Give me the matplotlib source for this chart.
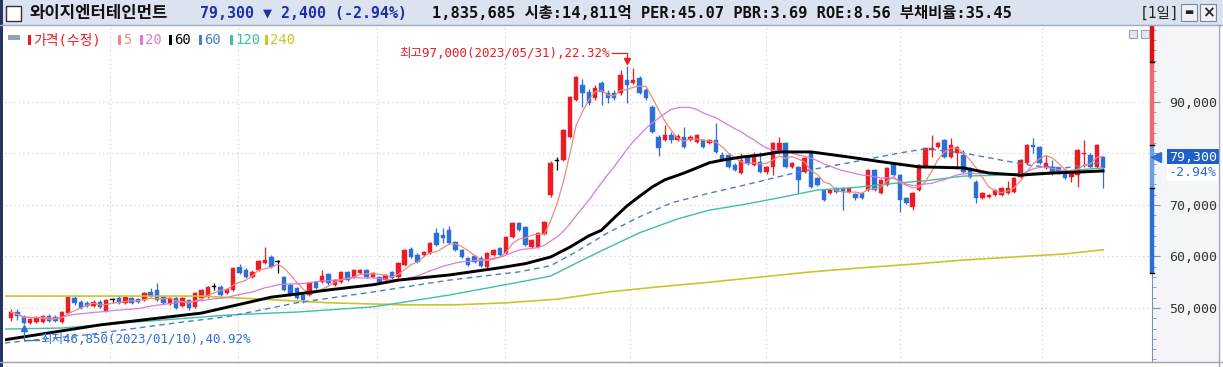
import numpy as np
import pandas as pd
import matplotlib
matplotlib.use("Agg")
import matplotlib.pyplot as plt
from matplotlib.patches import Rectangle
from matplotlib.ticker import FuncFormatter, MultipleLocator, FixedLocator

plt.rcParams['font.family'] = ['Noto Sans CJK KR', 'DejaVu Sans']
MONO = ['DejaVu Sans Mono', 'Noto Sans CJK KR']

# 일봉 OHLC (천원 단위), 2023/01/10 ~
opens = [48.1, 49.2, 48.2, 47.1, 47.3, 47.3, 48.4, 48.2, 47.3, 49.0,
         51.9, 51.2, 51.0, 50.4, 51.2, 49.4, 51.5, 51.9, 51.0, 51.9,
         51.7, 51.5, 53.1, 53.5, 52.1, 50.8, 51.9, 50.4, 51.5, 50.2,
         51.9, 52.1, 54.1, 54.1, 52.9, 53.5, 58.0, 57.4, 56.0, 57.4,
         58.7, 59.9, 58.9, 56.0, 54.5, 53.9, 52.5, 52.5, 55.0, 55.0,
         56.6, 54.5, 55.0, 57.0, 56.0, 56.8, 57.4, 56.0, 56.0, 55.4,
         57.0, 56.0, 58.3, 61.5, 60.3, 60.3, 60.7, 64.6, 64.2, 65.1,
         62.8, 61.3, 59.7, 60.1, 59.7, 58.0, 60.3, 61.6, 60.7, 63.8,
         66.5, 65.7, 61.8, 61.8, 64.4, 71.9, 78.5, 78.7, 83.2, 90.4,
         93.3, 91.9, 90.8, 93.7, 91.7, 91.7, 91.7, 94.3, 93.7, 94.7,
         92.3, 89.0, 83.2, 82.6, 83.6, 82.6, 83.2, 82.6, 82.2, 82.6,
         82.0, 82.6, 79.7, 79.7, 77.8, 76.2, 79.3, 77.8, 78.3, 76.4,
         77.4, 80.1, 82.0, 77.4, 77.4, 76.4, 80.1, 75.2, 72.9, 72.3,
         73.3, 73.3, 72.5, 72.1, 72.3, 72.9, 76.8, 72.3, 73.9, 78.2,
         75.8, 71.4, 69.6, 72.9, 77.4, 80.7, 81.3, 82.6, 79.3, 80.1,
         79.7, 77.2, 74.5, 71.4, 71.6, 71.9, 71.9, 72.3, 72.5, 75.4,
         78.2, 81.6, 81.3, 77.2, 77.4, 77.2, 76.8, 75.4, 75.8, 79.9,
         79.7, 77.4, 79.3]
highs = [49.8, 49.8, 48.6, 48.1, 48.4, 48.6, 48.8, 48.6, 49.4, 52.3,
         52.5, 51.5, 51.4, 51.5, 51.5, 51.7, 51.9, 52.3, 52.3, 52.1,
         51.9, 53.1, 53.9, 54.8, 52.3, 52.1, 52.1, 52.1, 51.7, 53.1,
         53.7, 54.3, 54.8, 54.5, 53.9, 58.0, 58.5, 57.8, 57.4, 59.3,
         61.8, 60.3, 59.3, 56.2, 54.8, 54.1, 52.9, 55.0, 55.2, 57.4,
         56.8, 55.6, 57.2, 57.2, 57.6, 57.6, 57.6, 57.0, 56.2, 56.6,
         57.2, 58.9, 61.5, 61.8, 60.7, 61.1, 62.8, 65.5, 65.5, 65.9,
         63.0, 61.5, 59.9, 60.3, 60.1, 60.9, 61.5, 61.8, 64.0, 66.7,
         66.7, 65.9, 63.4, 64.8, 66.9, 78.5, 79.3, 84.8, 91.2, 95.1,
         94.5, 92.5, 93.3, 94.1, 92.3, 92.3, 96.2, 97.0, 96.6, 95.0,
         92.7, 89.4, 83.6, 85.5, 84.2, 83.8, 85.1, 83.6, 83.8, 82.8,
         82.8, 86.0, 80.3, 80.0, 78.2, 80.1, 79.5, 80.3, 80.3, 77.6,
         82.2, 83.2, 82.2, 78.3, 77.6, 79.3, 80.3, 75.4, 73.1, 73.1,
         73.5, 73.5, 73.5, 72.3, 72.5, 77.0, 77.0, 75.1, 77.4, 78.3,
         76.0, 71.6, 72.5, 78.0, 81.3, 83.6, 82.2, 82.8, 83.0, 81.4,
         80.7, 77.4, 74.9, 72.5, 72.1, 73.1, 73.5, 74.7, 75.4, 78.9,
         81.8, 83.0, 81.4, 79.7, 78.7, 77.4, 77.0, 76.8, 80.9, 82.6,
         80.1, 81.8, 79.6]
lows = [47.5, 47.7, 46.85, 46.9, 47.1, 47.1, 47.3, 47.3, 47.1, 48.8,
        50.6, 49.8, 50.2, 50.2, 50.0, 49.2, 51.0, 50.8, 50.8, 50.8,
        51.0, 51.4, 52.1, 51.4, 50.8, 50.6, 49.8, 50.2, 49.6, 50.0,
        51.7, 51.9, 53.5, 52.3, 52.7, 53.3, 56.6, 55.8, 55.8, 57.2,
        58.5, 57.8, 56.8, 53.3, 52.3, 51.7, 51.0, 52.3, 53.7, 54.8,
        54.5, 54.3, 54.8, 55.2, 55.8, 56.6, 55.8, 55.8, 54.8, 55.2,
        55.6, 55.8, 58.1, 59.7, 58.7, 60.1, 60.5, 62.0, 62.6, 62.4,
        61.1, 59.7, 58.1, 58.7, 58.0, 57.8, 60.1, 60.1, 60.5, 63.6,
        64.9, 62.0, 61.6, 61.6, 64.2, 71.6, 76.8, 78.5, 83.0, 90.2,
        89.0, 89.4, 90.4, 89.4, 89.8, 90.4, 91.3, 89.8, 93.5, 91.5,
        90.4, 84.0, 79.5, 82.4, 82.0, 82.4, 81.1, 82.4, 82.0, 81.1,
        81.8, 80.1, 78.5, 77.2, 76.6, 76.0, 77.8, 77.6, 76.2, 76.0,
        75.8, 79.9, 77.2, 77.2, 72.3, 76.2, 73.3, 73.7, 70.8, 72.1,
        72.3, 69.0, 72.3, 71.0, 71.2, 72.7, 72.7, 72.1, 73.7, 75.6,
        68.6, 70.2, 69.0, 72.7, 77.2, 79.3, 81.1, 79.1, 79.1, 77.0,
        76.2, 75.2, 70.4, 71.2, 71.4, 71.7, 71.7, 72.1, 72.3, 75.2,
        78.0, 80.1, 78.0, 77.0, 75.8, 76.0, 75.0, 74.5, 73.5, 77.4,
        77.2, 77.2, 73.3]
closes = [49.2, 48.4, 47.1, 47.9, 48.1, 48.4, 47.5, 47.5, 49.2, 52.1,
          51.0, 50.0, 50.4, 51.2, 50.2, 51.5, 51.5, 51.0, 52.1, 51.0,
          51.2, 52.9, 52.3, 51.5, 51.0, 51.9, 50.0, 51.9, 50.0, 52.9,
          53.5, 54.1, 54.1, 52.5, 53.7, 57.8, 56.8, 56.0, 57.0, 59.1,
          59.3, 58.0, 58.9, 53.5, 52.5, 51.9, 51.5, 54.8, 53.9, 56.2,
          54.8, 55.4, 57.0, 55.4, 57.4, 57.4, 56.0, 56.8, 55.0, 56.4,
          55.8, 58.7, 61.3, 59.9, 58.9, 60.9, 62.6, 62.2, 63.6, 62.6,
          61.3, 59.9, 58.3, 58.9, 58.2, 60.7, 61.3, 60.3, 63.8, 66.5,
          65.1, 62.2, 63.2, 64.6, 66.7, 78.2, 78.5, 84.6, 91.0, 94.9,
          91.7, 89.8, 92.7, 91.9, 90.8, 90.8, 95.2, 93.3, 94.3, 91.7,
          90.8, 84.2, 81.1, 83.6, 82.6, 83.4, 81.3, 83.2, 83.6, 81.3,
          82.6, 80.3, 78.7, 77.4, 76.8, 78.7, 78.2, 79.7, 76.4, 77.4,
          82.0, 82.0, 77.4, 78.2, 74.9, 79.1, 73.5, 73.9, 71.0, 72.9,
          72.5, 72.5, 73.3, 71.4, 71.4, 76.8, 72.9, 74.9, 77.2, 75.8,
          71.0, 70.4, 72.3, 77.8, 81.1, 81.1, 82.0, 79.3, 81.6, 81.3,
          76.4, 75.4, 71.4, 72.3, 71.9, 72.9, 73.3, 73.3, 75.2, 78.7,
          81.6, 81.3, 78.2, 78.2, 76.4, 76.2, 75.2, 76.4, 80.7, 80.1,
          77.4, 81.7, 77.2]

# 장기 이동평균 (봉 번호, 천원)
ma60_idx = [-1, 0, 14, 30, 41, 45, 50, 57, 61, 69, 77, 81, 85, 88, 91, 93, 95, 97,
            99, 101, 103, 106, 108, 110, 112, 115, 118, 121, 126, 132, 137, 143,
            150, 154, 159, 164, 172]
ma60_val = [43.8, 44.0, 46.7, 49.0, 52.1, 52.7, 53.5, 54.5, 55.4, 56.4, 57.8, 58.6,
            59.9, 61.8, 64.0, 65.1, 67.5, 69.8, 71.7, 73.5, 74.9, 76.2, 77.2, 78.2,
            78.7, 79.3, 79.7, 80.3, 80.3, 79.3, 78.4, 77.4, 77.2, 76.2, 75.8, 76.2,
            76.6]
ma60b_idx = [-1, 12, 26, 34, 41, 45, 57, 69, 80, 85, 89, 94, 99, 104, 110, 115,
             120, 124, 132, 140, 144, 150, 156, 161, 166, 172]
ma60b_val = [43.2, 44.8, 47.1, 48.3, 50.0, 51.0, 53.1, 55.4, 57.0, 58.2, 60.9, 64.6,
             67.7, 70.4, 72.3, 73.7, 75.2, 76.4, 78.2, 80.1, 80.9, 80.1, 78.7, 77.6,
             77.2, 78.3]
ma120_idx = [-1, 8, 20, 34, 41, 45, 57, 69, 80, 85, 90, 94, 99, 105, 110, 115, 121,
             127, 132, 140, 144, 150, 156, 164, 172]
ma120_val = [45.9, 46.1, 47.3, 48.6, 49.0, 49.2, 50.2, 52.5, 55.0, 56.2, 59.3, 61.7,
             64.6, 67.3, 69.0, 70.0, 71.4, 72.9, 73.3, 74.3, 74.7, 75.6, 75.8, 76.4,
             77.2]
ma240_idx = [-1, 30, 41, 50, 62, 70, 78, 86, 94, 102, 110, 118, 126, 134, 142, 150,
             158, 166, 172]
ma240_val = [52.3, 52.3, 51.6, 51.0, 50.6, 50.6, 51.0, 51.7, 53.1, 54.1, 55.0, 56.0,
             57.0, 57.8, 58.5, 59.3, 59.9, 60.5, 61.3]

month_starts = [15.6, 35.7, 57.6, 77.8, 97.5, 118.9, 140, 162.4]
range_levels = [104.9, 97.8, 81.6, 73.3, 56.8]
last_price = 79.3
hi_idx, hi_val = 97, 97.0
lo_idx, lo_val = 2, 46.85

W, H = 1223, 367
def fx(px): return px / W
def fy(py): return 1 - py / H

RED = '#ec1c24'
BLUE = '#2c6fd6'

fig = plt.figure(figsize=(W / 100, H / 100), dpi=100)
fig.patch.set_facecolor('white')

# 오른쪽 가격축 배경
fig.add_artist(Rectangle((fx(1152), fy(362)), fx(1218) - fx(1152), fy(25) - fy(362),
                         transform=fig.transFigure, facecolor='#f3f5f8', edgecolor='none', zorder=0))

ax = fig.add_axes([fx(5), fy(362), fx(1152) - fx(5), fy(25) - fy(362)])
ax.set_xlim(-0.95, 179.7)
ax.set_ylim(39.5, 104.95)

n = len(closes)
x = np.arange(n)
o = np.array(opens); c = np.array(closes); h = np.array(highs); l = np.array(lows)
cols = np.where(c > o, RED, np.where(c < o, BLUE, 'black'))
ax.vlines(x, l, h, colors=cols, lw=0.9, zorder=3)
body = np.maximum(np.abs(c - o), 0.18)
ax.bar(x, body, bottom=np.minimum(o, c), width=0.7, color=cols, edgecolor=cols, lw=0.3, zorder=4)

ma5 = pd.Series(closes).rolling(5, min_periods=1).mean()
ma20 = pd.Series(closes).rolling(20, min_periods=1).mean()
ax.plot(ma240_idx, ma240_val, color='#c9c62a', lw=1.2, zorder=5)
ax.plot(ma120_idx, ma120_val, color='#3fbfa5', lw=1.0, zorder=5)
ax.plot(ma60b_idx, ma60b_val, color='#4a7fc8', lw=1.0, ls=(0, (4, 3)), zorder=5)
ax.plot(ma60_idx, ma60_val, color='black', lw=2.1, zorder=6, solid_joinstyle='round')
ax.plot(x, ma20, color='#d77be0', lw=0.9, zorder=5)
ax.plot(x, ma5, color='#f08a80', lw=0.9, zorder=5)

# 최고/최저 표시
ax.text(hi_idx - 2.7, hi_val + 2.5, '최고97,000(2023/05/31),22.32%', color=RED, family=MONO,
        fontsize=9, ha='right', va='center', zorder=7)
ax.plot([hi_idx - 2.4, hi_idx, hi_idx], [hi_val + 2.5, hi_val + 2.5, hi_val + 1.0], color=RED, lw=0.9, zorder=7)
ax.plot([hi_idx], [hi_val + 1.0], marker='v', ms=4, color=RED, zorder=7)
ax.text(lo_idx + 2.6, lo_val - 3.0, '최저46,850(2023/01/10),40.92%', color=BLUE, family=MONO,
        fontsize=9, ha='left', va='center', zorder=7)
ax.plot([lo_idx + 2.4, lo_idx, lo_idx], [lo_val - 3.0, lo_val - 3.0, lo_val - 0.8], color=BLUE, lw=0.9, zorder=7)
ax.plot([lo_idx], [lo_val - 0.8], marker='^', ms=4, color=BLUE, zorder=7)

# 축/격자
ax.set_facecolor('white')
for s in ['left', 'top']:
    ax.spines[s].set_visible(False)
ax.spines['bottom'].set_color('#b8c0cc')
ax.spines['right'].set_color('#8090b0')
ax.yaxis.tick_right()
ax.yaxis.set_major_locator(FixedLocator([50, 60, 70, 80, 90]))
ax.yaxis.set_minor_locator(MultipleLocator(2))
ax.yaxis.set_major_formatter(FuncFormatter(lambda v, p: '' if round(v) == 80 else f'{int(round(v * 1000)):,}'))
ax.tick_params(axis='y', which='major', length=6, color='#8090b0', labelsize=9.5,
               labelcolor='#333333', pad=6)
for t in ax.get_yticklabels():
    t.set_family(MONO)
ax.tick_params(axis='y', which='minor', length=3, color='#8090b0')
ax.set_xticks(month_starts)
ax.tick_params(axis='x', length=0, labelbottom=False)
ax.grid(True, color='#c8c8c8', lw=0.8, ls=(0, (1, 3)))
ax.set_axisbelow(True)

# 오른쪽 축 위 기간 구간 막대
bar_cols = ['#e01010', '#f06a6a', '#6d9de2', BLUE]
tr = ax.get_yaxis_transform()
for k in range(4):
    ax.plot([1.0, 1.0], [range_levels[k], range_levels[k + 1]], color=bar_cols[k], lw=3.2,
            transform=tr, clip_on=False, solid_capstyle='butt', zorder=8)
for lv in range_levels[1:]:
    ax.plot([0.9985, 1.0015], [lv, lv], color='black', lw=1, transform=tr, clip_on=False, zorder=9)

# 현재가 표시
ax.plot([1.0035], [last_price], marker='<', ms=7, color=BLUE, transform=tr, clip_on=False, zorder=9)
ax.text(1.0148, last_price, f'{int(last_price * 1000):,}', transform=tr, color='white', fontsize=9.5,
        family=MONO, va='center', ha='left', zorder=9,
        bbox=dict(boxstyle='square,pad=0.12', fc='#1f5fc8', ec='none'))
ax.text(1.0148, last_price - 3.0, '-2.94%', transform=tr, color=BLUE, fontsize=9.5, family=MONO,
        va='center', ha='left', zorder=9,
        bbox=dict(boxstyle='square,pad=0.12', fc='white', ec='none'))

# 작은 창 아이콘
for px in [1129, 1141]:
    fig.add_artist(Rectangle((fx(px), fy(38)), fx(8), 8 / H, transform=fig.transFigure,
                             facecolor='#e4e8ee', edgecolor='#9aa4b4', lw=0.8))

# 상단 정보줄
fig.add_artist(Rectangle((0, fy(25)), 1, 25 / H, transform=fig.transFigure,
                         facecolor='#dbe3f0', edgecolor='none'))
fig.add_artist(plt.Line2D([0, 1], [fy(25), fy(25)], color='#9eaac0', lw=1))
fig.add_artist(Rectangle((fx(6), fy(21)), fx(15), 15 / H, transform=fig.transFigure,
                         facecolor='white', edgecolor='#333333', lw=1))
ty = fy(13)
fig.text(fx(30), ty, '와이지엔터테인먼트', fontsize=12, fontweight='bold', color='#111111', va='center')
fig.text(fx(200), ty, '79,300 ▼ 2,400 (-2.94%)', fontsize=10.8, fontweight='bold', family=MONO,
         color='#1c2fa8', va='center')
fig.text(fx(432), ty, '1,835,685 시총:14,811억 PER:45.07 PBR:3.69 ROE:8.56 부채비율:35.45',
         fontsize=11.1, fontweight='bold', family=MONO, color='#111111', va='center')
fig.text(fx(1140), ty, '[1일]', fontsize=10.5, family=MONO, color='#222222', va='center')
for px, s in [(1181, '▬'), (1200, '×')]:
    fig.add_artist(Rectangle((fx(px), fy(21)), fx(16), 17 / H, transform=fig.transFigure,
                             facecolor='#eef1f6', edgecolor='#7d889c', lw=0.8))
    fig.text(fx(px + 8), fy(12.5), s, fontsize=7 if s == '▬' else 11, fontweight='bold',
             color='#222222', ha='center', va='center', family=['DejaVu Sans'])

# 범례줄
fig.add_artist(Rectangle((fx(8), fy(40)), fx(12), 5 / H, transform=fig.transFigure,
                         facecolor='#8ea2c0', edgecolor='none'))
legend_items = [(28, '가격(수정)', RED), (118, '5', '#f08a80'), (140, '20', '#d77be0'),
                (169, '60', 'black'), (199, '60', '#4a7fc8'), (230, '120', '#3fbfa5'),
                (265, '240', '#c9c62a')]
for px, s, col in legend_items:
    fig.add_artist(Rectangle((fx(px), fy(45)), fx(3), 10 / H, transform=fig.transFigure,
                             facecolor=col, edgecolor='none'))
    fig.text(fx(px + 5), fy(40), s, fontsize=10, family=MONO, color=col, va='center')

# 테두리
fig.add_artist(Rectangle((0, 0), fx(3), 1, transform=fig.transFigure, facecolor='#27345e', edgecolor='none'))
fig.add_artist(plt.Line2D([fx(1219), fx(1219)], [0, fy(25)], color='#9aa4b4', lw=1))
fig.add_artist(plt.Line2D([0, 1], [fy(362), fy(362)], color='#9aa4b4', lw=1))

fig.savefig('out.png', dpi=100)
